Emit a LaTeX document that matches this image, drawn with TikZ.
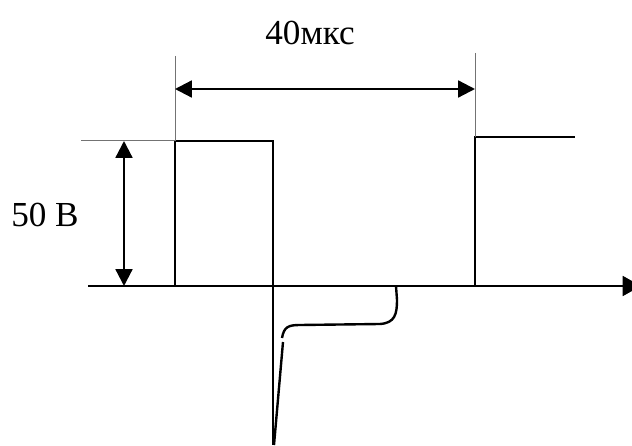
\documentclass[tikz,border=0pt]{standalone}
\usepackage{fontspec}
\setmainfont{Liberation Serif}
\usetikzlibrary{arrows.meta}

\begin{document}
\begin{tikzpicture}[x=0.025cm,y=-0.025cm]


%definitions

\def\w{1.9pt} %signal line width
\def\base{286} %zero level
\def\hi{140} %pulse level
\def\tA{175} %first front
\def\tB{273} %first fall
\def\tC{475} %second front

\tikzset{
  thinline/.style={line width=0.5pt,black!55},
  dimarrow/.style={line width=1.6pt,{Triangle[length=12pt,width=12pt]}-{Triangle[length=12pt,width=12pt]}},
  lbl/.style={font=\fontsize{25}{30}\selectfont,inner sep=0pt}
}

\useasboundingbox (0,0) rectangle (632,446);

%
%AXIS
%

\coordinate (o) at (88,\base);
\coordinate (xend) at (641,\base);
\draw[line width=\w,-{Triangle[length=13pt,width=14pt]}] (o) -- (xend); %time axis

%
%PULSES
%

\draw[line width=\w] (\tA,\base) -- (\tA,141) -- (\tB,141) -- (\tB,445); %first pulse + fall
\draw[line width=\w] (\tC,\base) -- (\tC,137) -- (575,137); %second pulse

%negative spike and recovery
\draw[line width=1.7pt] (274,445) -- (283,342);
\draw[line width=1.7pt] (282,338) .. controls (284,327) and (288,325) .. (300,325) -- (380,324) .. controls (395,323) and (397,314) .. (397,300) -- (396,286);

%
%DIMENSIONS
%

\draw[thinline] (\tA,56) -- (\tA,141); %left extension
\draw[thinline] (\tC,53) -- (\tC,137); %right extension
\draw[thinline] (81,140) -- (\tA,140); %level extension

\coordinate (p1) at (\tA,89);
\coordinate (p2) at (\tC,89);
\draw[dimarrow] (p1) -- (p2); %period

\coordinate (a1) at (124,141);
\coordinate (a2) at (124,\base);
\draw[dimarrow] (a1) -- (a2); %amplitude

\node[lbl] (period) at (310,33) {40мкс};
\node[lbl] (ampl) at (45,215) {50 В};


\end{tikzpicture}
\end{document}
